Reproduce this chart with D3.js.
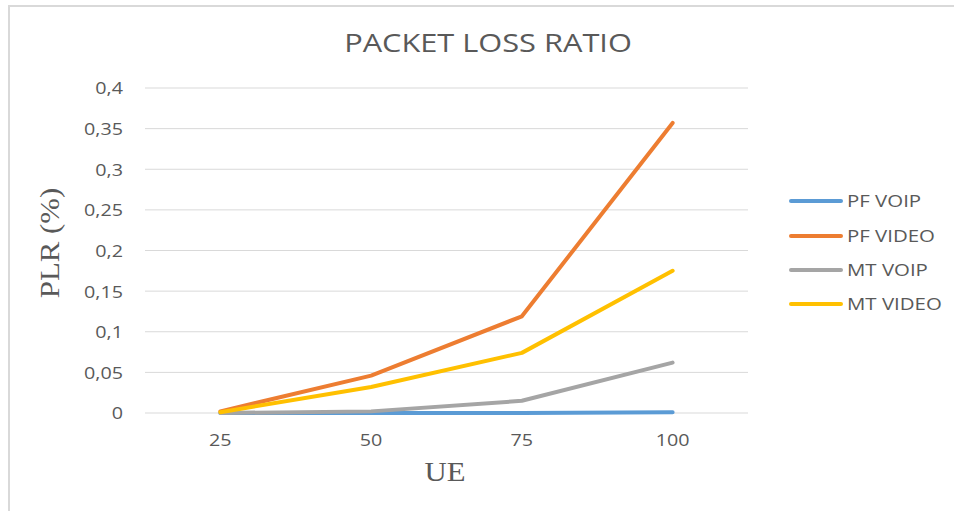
<!DOCTYPE html>
<html><head><meta charset="utf-8">
<script src="https://cdn.jsdelivr.net/npm/d3@7"></script>
<style>body{margin:0;background:#fff;}svg{display:block;}</style>
</head><body>
<svg id="c" width="954" height="511"></svg>
<script>
const categories = ["25", "50", "75", "100"];
const seriesNames = ["PF VOIP", "PF VIDEO", "MT VOIP", "MT VIDEO"];
const pfVoip  = [0, 0, 0, 0.001];
const pfVideo = [0.002, 0.046, 0.119, 0.357];
const mtVoip  = [0, 0.002, 0.015, 0.062];
const mtVideo = [0.001, 0.032, 0.074, 0.175];
const yTicks = [0, 0.05, 0.1, 0.15, 0.2, 0.25, 0.3, 0.35, 0.4];
const colors = ["#5b9bd5", "#ed7d31", "#a5a5a5", "#ffc000"];
const seriesValues = [pfVoip, pfVideo, mtVoip, mtVideo];

const svg = d3.select("#c");
function stretch(sel, f) {
  sel.each(function(){
    const w = this.getComputedTextLength();
    d3.select(this).attr("textLength", w * f).attr("lengthAdjust", "spacingAndGlyphs");
  });
}
// outer frame (top + left)
svg.append("line").attr("x1",8).attr("x2",954).attr("y1",6).attr("y2",6).attr("stroke","#d9d9d9").attr("stroke-width",2);
svg.append("line").attr("x1",9).attr("x2",9).attr("y1",6).attr("y2",511).attr("stroke","#d9d9d9").attr("stroke-width",2);

const x = d3.scaleBand().domain(categories).range([145, 748]);
const y = d3.scaleLinear().domain([0, 0.4]).range([413, 88]);
const fmt = d => String(d).replace(".", ",");

// gridlines
svg.append("g").selectAll("line").data(yTicks).join("line")
  .attr("x1",145).attr("x2",748).attr("y1",d=>y(d)).attr("y2",d=>y(d))
  .attr("stroke","#d9d9d9").attr("stroke-width",1);

// y axis labels
const yAxis = d3.axisLeft(y).tickValues(yTicks).tickFormat(fmt).tickSize(0).tickPadding(0);
const gy = svg.append("g").attr("transform","translate(123,0)").call(yAxis);
gy.select(".domain").remove();
gy.selectAll("text").attr("font-family","Open Sans, sans-serif").attr("font-size",17).attr("fill","#595959").attr("dy","0.35em").call(stretch, 1.16);

// x axis labels
const xAxis = d3.axisBottom(x).tickSize(0).tickPadding(0);
const gx = svg.append("g").attr("transform","translate(0,430)").call(xAxis);
gx.select(".domain").remove();
gx.selectAll("text").attr("y",16).attr("dy",0).attr("font-family","Open Sans, sans-serif").attr("font-size",17).attr("fill","#595959").call(stretch, 1.16);

// lines
const line = d3.line().x((d,i)=>x(categories[i]) + x.bandwidth()/2).y(d=>y(d));
seriesValues.forEach((vals, k) => {
  svg.append("path").datum(vals).attr("d", line).attr("fill","none")
    .attr("stroke", colors[k]).attr("stroke-width",4).attr("stroke-linecap","round").attr("stroke-linejoin","round");
});

// title
svg.append("text").attr("x",488).attr("y",52).attr("text-anchor","middle")
  .attr("font-family","Open Sans, sans-serif").attr("font-size",25).attr("fill","#595959")
  .text("PACKET LOSS RATIO").call(stretch, 1.23);

// axis titles
svg.append("text").attr("x",445).attr("y",481).attr("text-anchor","middle")
  .attr("font-family","Liberation Serif, serif").attr("font-size",27).attr("fill","#595959").text("UE").call(stretch, 1.14);
svg.append("text").attr("transform","translate(59,243) rotate(-90)").attr("text-anchor","middle")
  .attr("font-family","Liberation Serif, serif").attr("font-size",27).attr("fill","#595959").text("PLR (%)").call(stretch, 1.14);

// legend
const leg = svg.append("g");
const ly = [201, 236, 270, 304];
seriesNames.forEach((n,k)=>{
  leg.append("line").attr("x1",791).attr("x2",841).attr("y1",ly[k]).attr("y2",ly[k])
    .attr("stroke",colors[k]).attr("stroke-width",4).attr("stroke-linecap","round");
  leg.append("text").attr("x",847).attr("y",ly[k]).attr("dy","0.35em")
    .attr("font-family","Open Sans, sans-serif").attr("font-size",17).attr("fill","#595959").text(n).call(stretch, 1.2);
});
</script>
</body></html>
